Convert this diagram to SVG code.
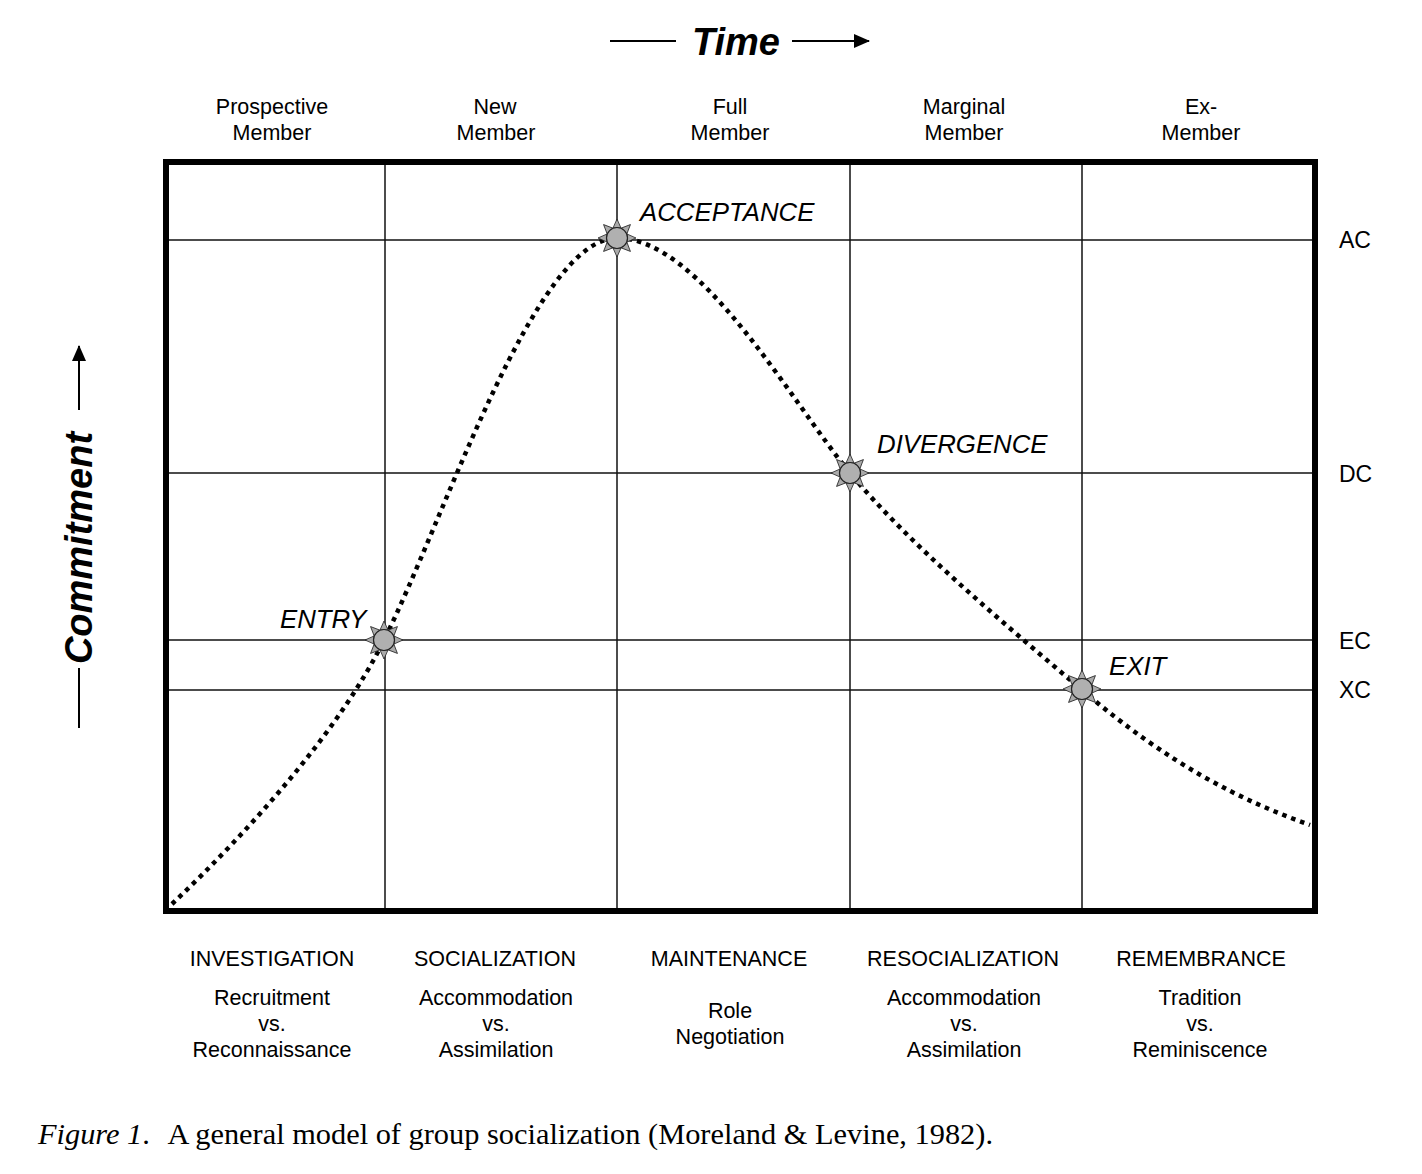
<svg xmlns="http://www.w3.org/2000/svg" width="1422" height="1174" viewBox="0 0 1422 1174">
<style>
.t{font-family:"Liberation Sans",Arial,sans-serif;font-size:21.5px;fill:#000;text-anchor:middle}
.lab{font-family:"Liberation Sans",Arial,sans-serif;font-size:25.8px;font-style:italic;fill:#000}
.ax{font-family:"Liberation Sans",Arial,sans-serif;font-size:23px;fill:#000}
.big{font-family:"Liberation Sans",Arial,sans-serif;font-size:38px;font-style:italic;font-weight:bold;fill:#000;text-anchor:middle}
.cap{font-family:"Liberation Serif","Times New Roman",serif;font-size:29.5px;fill:#000}
.grid{stroke:#111;stroke-width:1.5;fill:none}
.ln{stroke:#000;stroke-width:2;fill:none}
</style>
<defs>
<marker id="ah" viewBox="0 0 16 14" refX="15" refY="7" markerWidth="16" markerHeight="14" markerUnits="userSpaceOnUse" orient="auto">
<path d="M0,0 L16,7 L0,14 z" fill="#000"/>
</marker>
<g id="star">
<g fill="#aaa" stroke="#222" stroke-width="0.8">
<path d="M-4,-10 L0,-19 L4,-10 z"/>
<path d="M-4,-10 L0,-19 L4,-10 z" transform="rotate(45)"/>
<path d="M-4,-10 L0,-19 L4,-10 z" transform="rotate(90)"/>
<path d="M-4,-10 L0,-19 L4,-10 z" transform="rotate(135)"/>
<path d="M-4,-10 L0,-19 L4,-10 z" transform="rotate(180)"/>
<path d="M-4,-10 L0,-19 L4,-10 z" transform="rotate(225)"/>
<path d="M-4,-10 L0,-19 L4,-10 z" transform="rotate(270)"/>
<path d="M-4,-10 L0,-19 L4,-10 z" transform="rotate(315)"/>
</g>
<circle r="10.5" fill="#b0b0b0" stroke="#222" stroke-width="1.2"/>
</g>
</defs>
<rect width="1422" height="1174" fill="#fff"/>

<g id="grid">
<line class="grid" x1="385" y1="162" x2="385" y2="911"/>
<line class="grid" x1="617" y1="162" x2="617" y2="911"/>
<line class="grid" x1="850" y1="162" x2="850" y2="911"/>
<line class="grid" x1="1082" y1="162" x2="1082" y2="911"/>
<line class="grid" x1="166" y1="240" x2="1315" y2="240"/>
<line class="grid" x1="166" y1="473" x2="1315" y2="473"/>
<line class="grid" x1="166" y1="640" x2="1315" y2="640"/>
<line class="grid" x1="166" y1="690" x2="1315" y2="690"/>
</g>
<rect id="frame" x="166" y="162" width="1149" height="749" fill="none" stroke="#000" stroke-width="6"/>

<g id="connectors">
<path d="M172,904 C250,830 340,730 384,640 C445,518 535,238 617,238 C700,238 790,400 850,473 C910,545 1000,620 1082,690 C1170,765 1240,800 1310,825" fill="none" stroke="#000" stroke-width="4.5" stroke-dasharray="4.5 5"/>
<line class="ln" x1="610" y1="41" x2="676" y2="41"/>
<line class="ln" x1="792" y1="41" x2="869" y2="41" marker-end="url(#ah)"/>
<line class="ln" x1="79" y1="728" x2="79" y2="668"/>
<line class="ln" x1="79" y1="410" x2="79" y2="346" marker-end="url(#ah)"/>
</g>

<g id="entry"><use href="#star" x="384" y="640"/><text class="lab" x="280" y="628">ENTRY</text></g>
<g id="acceptance"><use href="#star" x="617" y="238"/><text class="lab" x="640" y="221">ACCEPTANCE</text></g>
<g id="divergence"><use href="#star" x="850" y="473"/><text class="lab" x="877" y="453">DIVERGENCE</text></g>
<g id="exit"><use href="#star" x="1082" y="689"/><text class="lab" x="1109" y="675">EXIT</text></g>

<g id="time"><text class="big" x="736" y="55">Time</text></g>
<g id="commitment"><text class="big" transform="translate(92,548) rotate(-90)">Commitment</text></g>

<g id="axis-labels">
<text class="ax" x="1339" y="248">AC</text>
<text class="ax" x="1339" y="482">DC</text>
<text class="ax" x="1339" y="649">EC</text>
<text class="ax" x="1339" y="698">XC</text>
</g>

<g id="roles">
<text class="t" x="272" y="114">Prospective</text><text class="t" x="272" y="140">Member</text>
<text class="t" x="495" y="114">New</text><text class="t" x="496" y="140">Member</text>
<text class="t" x="730" y="114">Full</text><text class="t" x="730" y="140">Member</text>
<text class="t" x="964" y="114">Marginal</text><text class="t" x="964" y="140">Member</text>
<text class="t" x="1201" y="114">Ex-</text><text class="t" x="1201" y="140">Member</text>
</g>

<g id="phases">
<text class="t" x="272" y="966">INVESTIGATION</text>
<text class="t" x="272" y="1005">Recruitment</text><text class="t" x="272" y="1031">vs.</text><text class="t" x="272" y="1057">Reconnaissance</text>
<text class="t" x="495" y="966">SOCIALIZATION</text>
<text class="t" x="496" y="1005">Accommodation</text><text class="t" x="496" y="1031">vs.</text><text class="t" x="496" y="1057">Assimilation</text>
<text class="t" x="729" y="966">MAINTENANCE</text>
<text class="t" x="730" y="1018">Role</text><text class="t" x="730" y="1044">Negotiation</text>
<text class="t" x="963" y="966">RESOCIALIZATION</text>
<text class="t" x="964" y="1005">Accommodation</text><text class="t" x="964" y="1031">vs.</text><text class="t" x="964" y="1057">Assimilation</text>
<text class="t" x="1201" y="966">REMEMBRANCE</text>
<text class="t" x="1200" y="1005">Tradition</text><text class="t" x="1200" y="1031">vs.</text><text class="t" x="1200" y="1057">Reminiscence</text>
</g>

<g id="caption">
<text class="cap" x="38" y="1144" textLength="955" lengthAdjust="spacingAndGlyphs"><tspan font-style="italic">Figure 1</tspan>.<tspan dx="17">A general model of group socialization (Moreland &amp; Levine, 1982).</tspan></text>
</g>
</svg>
